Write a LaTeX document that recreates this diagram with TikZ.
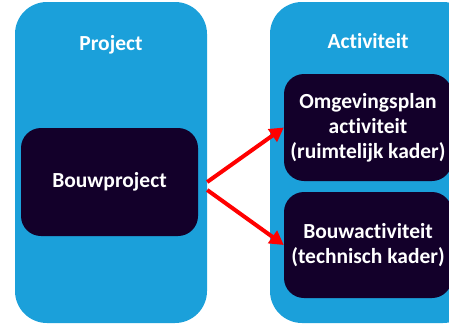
\documentclass[tikz,border=0pt]{standalone}
\usepackage{fontspec}
\setmainfont{Carlito}[Ligatures=NoCommon]
\usetikzlibrary{calc}
\usetikzlibrary{arrows.meta}
\definecolor{kolomblauw}{RGB}{27,160,218}
\definecolor{blokdonker}{RGB}{19,0,42}
\tikzset{kolombox/.style={fill=kolomblauw, rounded corners=32pt, inner sep=0pt}}
\tikzset{blokbox/.style={fill=blokdonker, rounded corners=20pt, inner sep=0pt, align=center}}
\tikzset{pijl/.style={red, line width=4pt, -{Triangle[length=14pt,width=15pt]}}}

\begin{document}
\begin{tikzpicture}[x=1pt, y=1pt, text=white, font=\bfseries\fontsize{21.5}{25}\selectfont]
\useasboundingbox (0,0) rectangle (449,325);
\clip (0,0) rectangle (449,325);
% kolommen
\node[kolombox, minimum width=192pt, minimum height=321pt] (projcol) at (111,162.5) {};
\node[kolombox, minimum width=205pt, minimum height=321pt] (actcol) at (372.5,162.5) {};
\node (projtitle) at (111,280) {Project};
\node (acttitle) at (368,284) {Activiteit};
% blokken
\node[blokbox, minimum width=177pt, minimum height=108pt] (bouwproject) at (109.5,143) {Bouwproject};
\node[blokbox, minimum width=168pt, minimum height=107pt] (omgplan) at (368,197.5) {Omgevingsplan\\activiteit\\(ruimtelijk kader)};
\node[blokbox, minimum width=168pt, minimum height=106pt] (bouwact) at (368,80) {Bouwactiviteit\\(technisch kader)};
% pijlen
\coordinate (s1) at (projcol.east |- bouwproject.east);
\coordinate (s2) at ($(s1)+(0,-8)$);
\draw[pijl] (s1)--(omgplan.west);
\draw[pijl] (s2)--(bouwact.west);
\end{tikzpicture}
\end{document}
